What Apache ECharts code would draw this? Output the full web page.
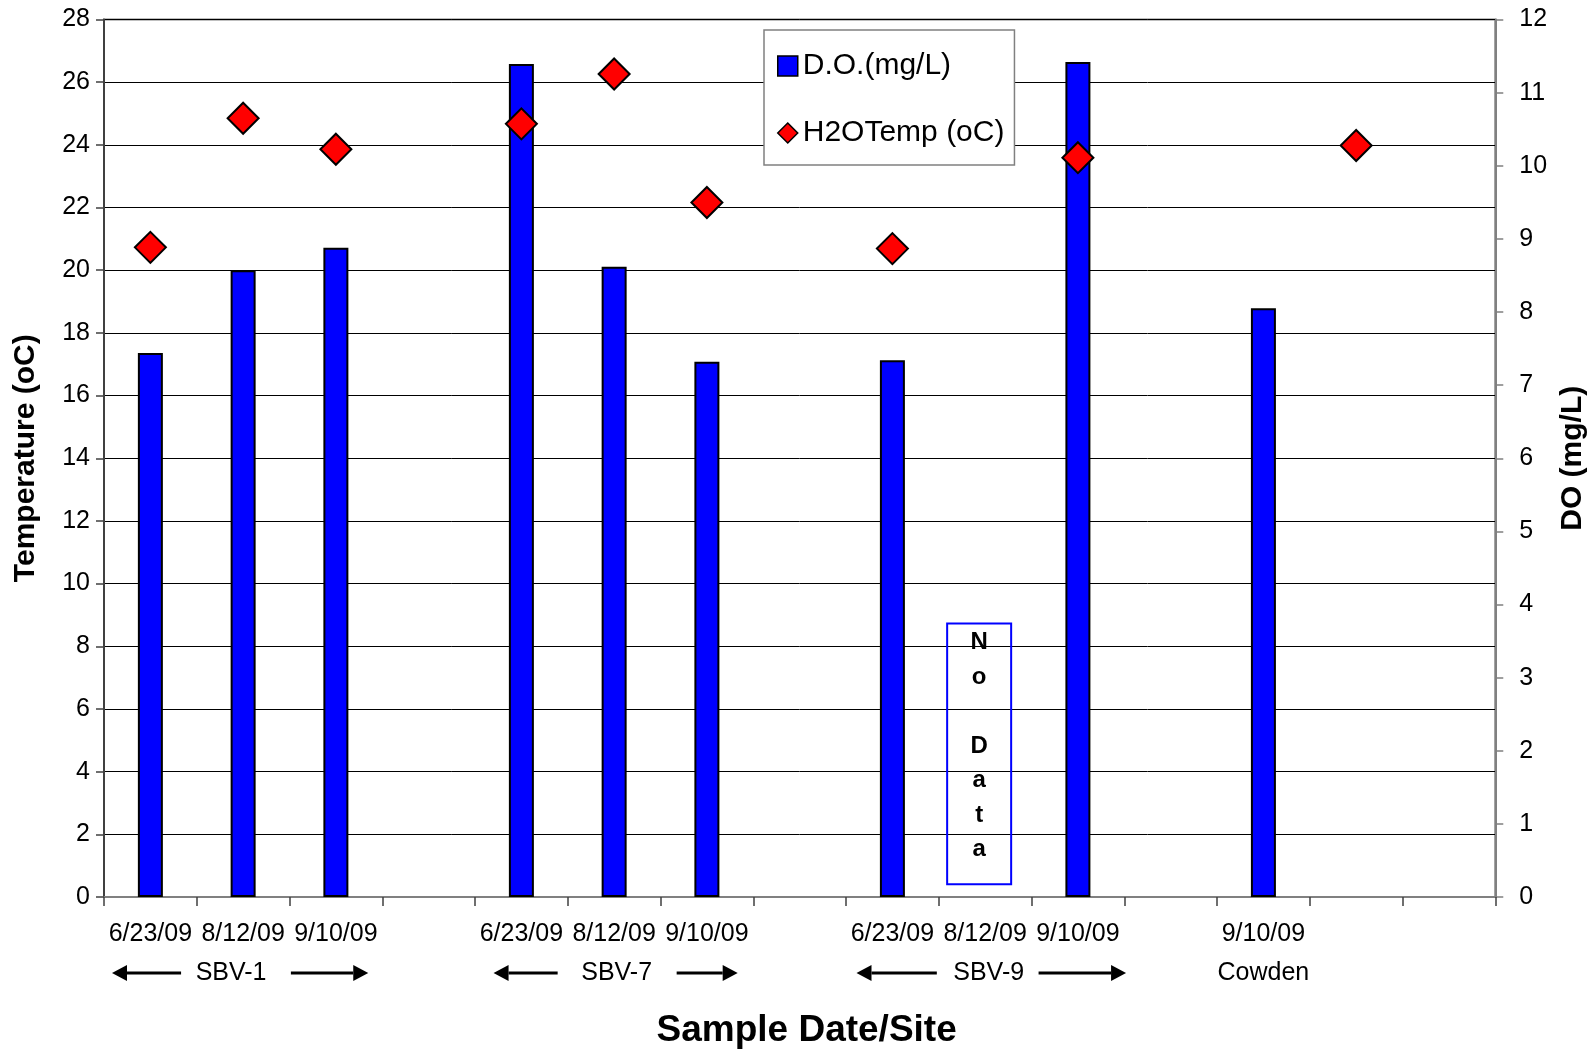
<!DOCTYPE html>
<html>
<head>
<meta charset="utf-8">
<script src="https://cdn.jsdelivr.net/npm/echarts@6/dist/echarts.min.js"></script>
<style>
html,body{margin:0;padding:0;background:#fff;}
#c{width:1596px;height:1054px;}
</style>
</head>
<body>
<div id="c"></div>
<script>
// ---- data ----
const categories = ['6/23/09','8/12/09','9/10/09','','6/23/09','8/12/09','9/10/09','','6/23/09','8/12/09','9/10/09','','9/10/09','',''];
const doValues   = [7.44, 8.57, 8.88, '-', 11.39, 8.62, 7.32, '-', 7.34, '-', 11.42, '-', 8.05, '-', '-'];
const tempValues = [20.73, 24.85, 23.86, '-', 24.67, 26.26, 22.16, '-', 20.69, '-', 23.59, '-', '-', 23.98, '-'];
const siteNames  = ['SBV-1', 'SBV-7', 'SBV-9', 'Cowden'];
const siteFirst  = [0, 4, 8, 12];
const siteLast   = [2, 6, 10, 12];
const noDataIndex = 9;
const noDataText = 'N\no\n\nD\na\nt\na';

// ---- layout of the site annotations (in category widths, relative to the middle category) ----
const siteLayout = [
  {text: -0.13, lTip: -1.414, lTail: -0.669, rTail: 0.515, rTip: 1.349},
  {text: 0.027, lTip: -1.30, lTail: -0.609, rTail: 0.674, rTip: 1.332},
  {text: 0.038, lTip: -1.387, lTail: -0.521, rTail: 0.576, rTip: 1.519},
  {text: 0, lTip: 0, lTail: 0, rTail: 0, rTip: 0}
];

const FONT = '"Liberation Sans", Arial, Helvetica, sans-serif';
const chart = echarts.init(document.getElementById('c'), null, {renderer: 'canvas'});

const option = {
  animation: false,
  backgroundColor: '#ffffff',
  textStyle: {fontFamily: FONT},
  grid: {left: 104, right: 100, top: 19.5, bottom: 154, show: true,
         borderColor: '#808080', borderWidth: 2, backgroundColor: 'transparent'},
  legend: {
    orient: 'vertical', left: 764, top: 30,
    padding: [21, 10, 17, 13], itemGap: 37, itemWidth: 20, itemHeight: 20,
    backgroundColor: '#ffffff', borderColor: '#808080', borderWidth: 1.5, borderRadius: 0,
    textStyle: {fontSize: 30, color: '#000', fontFamily: FONT},
    data: [
      {name: 'D.O.(mg/L)', icon: 'rect', itemStyle: {color: '#0000FF', borderColor: '#000', borderWidth: 1.5}},
      {name: 'H2OTemp (oC)', icon: 'diamond', itemStyle: {color: '#FF0000', borderColor: '#000', borderWidth: 1.5}}
    ]
  },
  xAxis: {
    type: 'category', data: categories, boundaryGap: true,
    axisLine: {show: true, lineStyle: {color: '#808080', width: 2}},
    axisTick: {show: true, interval: 0, length: 9, lineStyle: {color: '#404040', width: 1.5}},
    axisLabel: {interval: 0, margin: 25, fontSize: 25, color: '#000', fontFamily: FONT},
    splitLine: {show: false},
    name: 'Sample Date/Site', nameLocation: 'middle', nameGap: 115,
    nameTextStyle: {fontSize: 37, fontWeight: 'bold', color: '#000', fontFamily: FONT, padding: [0, 0, 0, 14]}
  },
  yAxis: [
    {
      type: 'value', min: 0, max: 28, interval: 2, position: 'left',
      axisLine: {show: true, lineStyle: {color: '#404040', width: 2}},
      axisTick: {show: true, length: 8, lineStyle: {color: '#404040', width: 1.5}},
      axisLabel: {margin: 14, fontSize: 25, color: '#000', fontFamily: FONT},
      splitLine: {show: true, lineStyle: {color: '#000', width: 1}},
      name: 'Temperature (oC)', nameLocation: 'middle', nameRotate: 90, nameGap: 63,
      nameTextStyle: {fontSize: 30, fontWeight: 'bold', color: '#000', fontFamily: FONT}
    },
    {
      type: 'value', min: 0, max: 12, interval: 1, position: 'right',
      axisLine: {show: true, lineStyle: {color: '#808080', width: 2}},
      axisTick: {show: true, length: 8, lineStyle: {color: '#808080', width: 1.5}},
      axisLabel: {margin: 24, fontSize: 25, color: '#000', fontFamily: FONT},
      splitLine: {show: false},
      name: 'DO (mg/L)', nameLocation: 'middle', nameRotate: 90, nameGap: 61,
      nameTextStyle: {fontSize: 30, fontWeight: 'bold', color: '#000', fontFamily: FONT}
    }
  ],
  series: [
    {
      name: 'D.O.(mg/L)', type: 'bar', yAxisIndex: 1, data: doValues, barWidth: 25,
      itemStyle: {color: '#0000FF', borderColor: '#000', borderWidth: 2}
    },
    {
      name: 'H2OTemp (oC)', type: 'scatter', yAxisIndex: 0, data: tempValues,
      symbol: 'diamond', symbolSize: 31,
      itemStyle: {color: '#FF0000', borderColor: '#000', borderWidth: 2, opacity: 1}
    }
  ]
};
chart.setOption(option);

// ---- annotations placed through the axes ----
function P(i, v) { return chart.convertToPixel({gridIndex: 0}, [i, v]); }
const c0 = P(0, 0), c1 = P(1, 0);
const w = c1[0] - c0[0];
const baseY = c0[1];
const siteY = baseY + 76;
const g = [];
function arrow(xTail, xTip, y) {
  const dir = xTip > xTail ? 1 : -1;
  const headL = 15, headH = 8;
  g.push({type: 'line', shape: {x1: xTail, y1: y, x2: xTip - dir * headL, y2: y},
          style: {stroke: '#000', lineWidth: 3}, silent: true});
  g.push({type: 'polygon', shape: {points: [[xTip, y], [xTip - dir * headL, y - headH], [xTip - dir * headL, y + headH]]},
          style: {fill: '#000'}, silent: true});
}
for (let k = 0; k < siteNames.length; k++) {
  const mid = (siteFirst[k] + siteLast[k]) / 2;
  const cx = P(mid, 0)[0];
  const L = siteLayout[k];
  g.push({type: 'text', x: cx + L.text * w, y: siteY, silent: true,
          style: {text: siteNames[k], fill: '#000', font: '25px ' + FONT, align: 'center', verticalAlign: 'middle'}});
  if (siteLast[k] > siteFirst[k]) {
    arrow(cx + L.lTail * w, cx + L.lTip * w, siteY);
    arrow(cx + L.rTail * w, cx + L.rTip * w, siteY);
  }
}
// "No Data" box
const nd = P(noDataIndex, 0)[0] - 6;
const ndTop = P(noDataIndex, 8.73)[1];
const ndBot = P(noDataIndex, 0.41)[1];
g.push({type: 'rect', shape: {x: nd - 32, y: ndTop, width: 64, height: ndBot - ndTop},
        style: {fill: 'rgba(255,255,255,0)', stroke: '#0000FF', lineWidth: 2}, silent: true, z: 10});
g.push({type: 'text', x: nd, y: ndTop + 2, silent: true, z: 11,
        style: {text: noDataText, fill: '#000', font: 'bold 24px ' + FONT, align: 'center', verticalAlign: 'top', lineHeight: 34.5}});
chart.setOption({graphic: g});
</script>
</body>
</html>
